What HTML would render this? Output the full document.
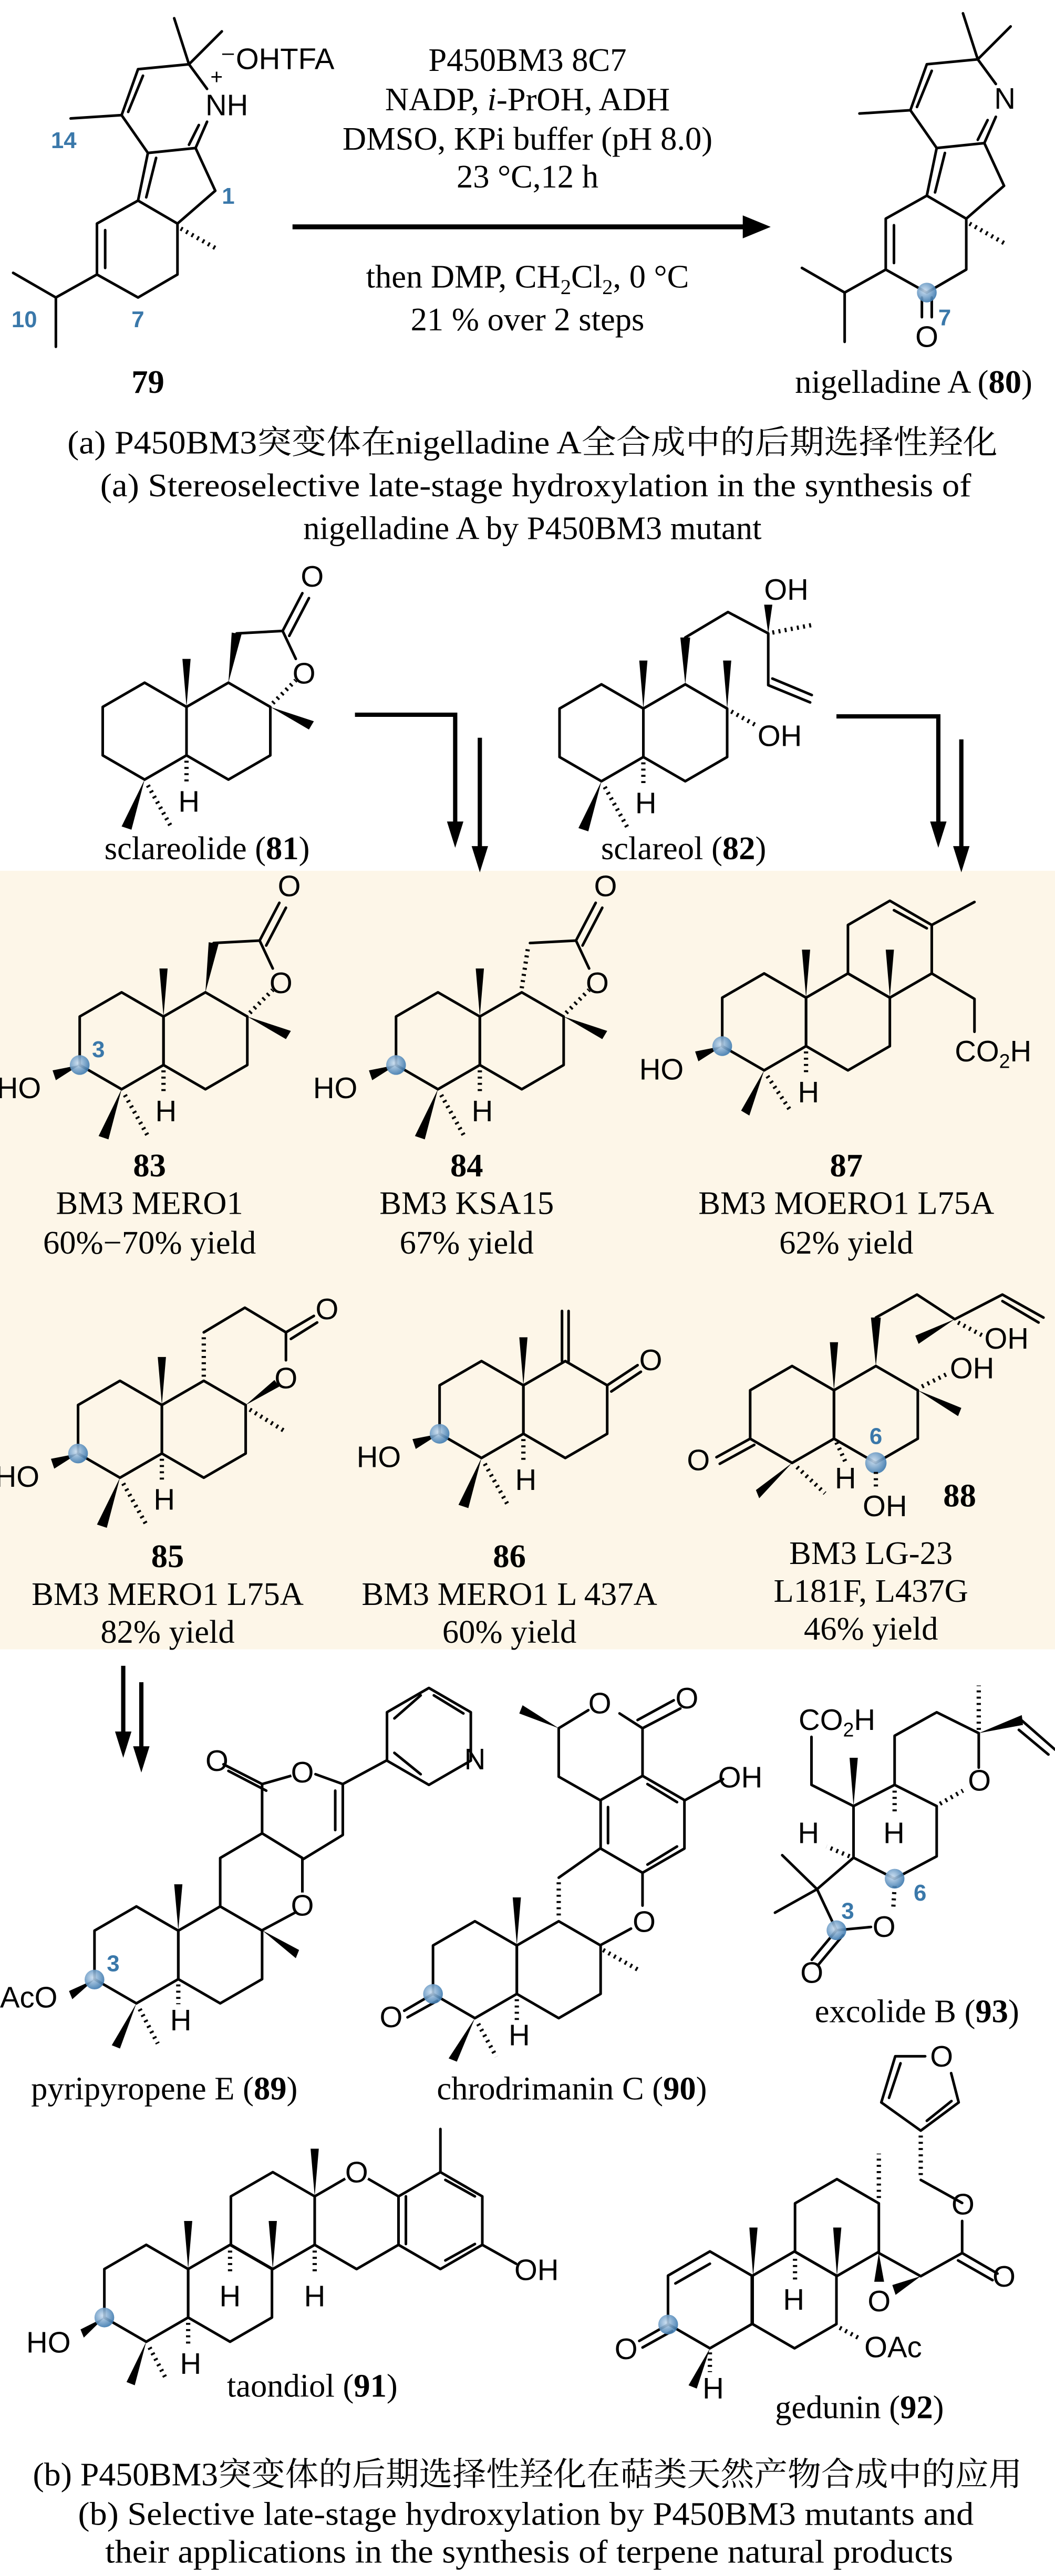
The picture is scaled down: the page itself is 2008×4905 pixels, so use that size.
<!DOCTYPE html>
<html><head><meta charset="utf-8"><style>
html,body{margin:0;padding:0;background:#fff}
svg{display:block}
.l{stroke:#000;stroke-width:1.6;fill:none;stroke-linejoin:round;stroke-linecap:round}
.ar{stroke:#000;stroke-width:2.6;fill:none}
.hs{stroke:#000;stroke-width:2.6;stroke-dasharray:1.2 2.6;fill:none}
.w{fill:#000;stroke:none}
.t{font-family:"Liberation Serif","Noto Serif CJK SC",serif;font-size:20px;fill:#000}
.a{font-family:"Liberation Sans",sans-serif;font-size:18px;fill:#000}
.bl{font-family:"Liberation Sans",sans-serif;font-size:14px;fill:#3a78aa;font-weight:bold}
.c{text-anchor:middle}
</style></head><body>
<svg width="2008" height="4905" viewBox="0 0 642 1568" xmlns="http://www.w3.org/2000/svg">
<defs>
<path id="h" class="l" d="M0,-29.5L25.5,-14.75L25.5,14.75L0,29.5L-25.5,14.75L-25.5,-14.75Z"/>
<radialGradient id="bg" cx="0.4" cy="0.4" r="0.6"><stop offset="0" stop-color="#c7dcf0"/><stop offset="1" stop-color="#3f7bb0"/></radialGradient>
</defs>
<rect x="0" y="0" width="642" height="1568" fill="#fff"/>
<rect x="0" y="530" width="642" height="474" fill="#fdf6e8"/>

<!-- ===== Scheme (a) ===== -->
<g id="m79">
<path class="l" d="M84,42L115,39M115,39L106,11M115,39L135,19M115,39L126,54M74,70L84,42M78,68L87,46M74,70L43,72M74,70L90,93L119,90M119,90L126,74M115,88L121,76M90,93L84,122M95,96L89,120M119,90L131,116L108,136L84,122M84,122L59,136L59,167L84,181L108,167L108,136M64,140L64,163M59,167L34,181L8,166M34,181L34,211"/>
<path class="hs" d="M110,139L133,152"/>
</g>
<text class="a" x="125" y="70">NH</text>
<text class="a" x="128" y="51" style="font-size:13px">+</text>
<text class="a" x="134" y="42">⁻OHTFA</text>
<text class="bl" x="31" y="90">14</text>
<text class="bl" x="135" y="124">1</text>
<text class="bl" x="7" y="199">10</text>
<text class="bl" x="80" y="199">7</text>
<text class="t c" x="90" y="239" font-weight="bold">79</text>

<text class="t c" x="321" y="43">P450BM3 8C7</text>
<text class="t c" x="321" y="67">NADP, <tspan font-style="italic">i</tspan>-PrOH, ADH</text>
<text class="t c" x="321" y="91">DMSO, KPi buffer (pH 8.0)</text>
<text class="t c" x="321" y="114">23 °C,12 h</text>
<line x1="178" y1="138" x2="455" y2="138" stroke="#000" stroke-width="3"/>
<polygon points="469,138 452,131 452,145" fill="#000"/>
<text class="t c" x="321" y="175">then DMP, CH<tspan font-size="13" dy="4">2</tspan><tspan dy="-4">Cl</tspan><tspan font-size="13" dy="4">2</tspan><tspan dy="-4">, 0 °C</tspan></text>
<text class="t c" x="321" y="201">21 % over 2 steps</text>

<g transform="translate(480,-3)">
<path class="l" d="M84,42L115,39M115,39L106,11M115,39L135,19M115,39L126,54M74,70L84,42M78,68L87,46M74,70L43,72M74,70L90,93L119,90M119,90L126,74M115,88L121,76M90,93L84,122M95,96L89,120M119,90L131,116L108,136L84,122M84,122L59,136L59,167L84,181L108,167L108,136M64,140L64,163M59,167L34,181L8,166M34,181L34,211M81,184L81,196M87,184L87,196"/>
<path class="hs" d="M110,139L133,152"/>
<circle cx="84" cy="181" r="6" fill="url(#bg)" opacity="0.9"/>
<text class="a" x="125" y="69">N</text>
<text class="a c" x="84" y="214">O</text>
<text class="bl" x="91" y="201">7</text>
</g>
<text class="t c" x="556" y="239">nigelladine A (<tspan font-weight="bold">80</tspan>)</text>

<text class="t c" x="324" y="276" textLength="566" lengthAdjust="spacingAndGlyphs">(a) P450BM3突变体在nigelladine A全合成中的后期选择性羟化</text>
<text class="t c" x="326" y="302" textLength="530" lengthAdjust="spacingAndGlyphs">(a) Stereoselective late-stage hydroxylation in the synthesis of</text>
<text class="t c" x="324" y="328">nigelladine A by P450BM3 mutant</text>

<!-- ===== 81 sclareolide ===== -->
<g transform="translate(88,445)">
<use href="#h"/><use href="#h" x="51"/>
<polygon class="w" points="25.5,-14.75 23,-44 28,-44"/>
<path class="hs" d="M25.5,18L25.5,32"/>
<text class="a c" x="27" y="49">H</text>
<polygon class="w" points="0,29.5 -14,58 -8,60"/>
<path class="hs" d="M2,33L16,58"/>
<polygon class="w" points="51,-29.5 53,-60 59,-59"/>
<path class="l" d="M56,-59.5L84,-61M84,-61L92,-44M84,-61L96,-84M88,-58L100,-81"/>
<path class="hs" d="M78,-17L92,-31"/>
<polygon class="w" points="76.5,-14.75 103,-6 100,-1"/>
<text class="a c" x="97" y="-29">O</text>
<text class="a c" x="102" y="-88">O</text>
</g>
<text class="t c" x="126" y="523">sclareolide (<tspan font-weight="bold">81</tspan>)</text>

<!-- ===== 82 sclareol ===== -->
<g transform="translate(366,446)">
<use href="#h"/><use href="#h" x="51"/>
<polygon class="w" points="25.5,-14.75 23,-44 28,-44"/>
<polygon class="w" points="76.5,-14.75 74,-44 79,-44"/>
<path class="hs" d="M25.5,18L25.5,32"/>
<text class="a c" x="27" y="49">H</text>
<polygon class="w" points="0,29.5 -14,58 -8,60"/>
<path class="hs" d="M2,33L16,58"/>
<polygon class="w" points="51,-29.5 48,-58 54,-58"/>
<path class="l" d="M51,-58L77,-73.5L101.5,-60.5L101.5,-29L127,-18.5M104,-33L128,-23"/>
<polygon class="w" points="101.5,-60.5 99,-78 104,-78"/>
<path class="hs" d="M104,-61L130,-66"/>
<path class="hs" d="M79,-13L95,-4"/>
<text class="a" x="99" y="-81">OH</text>
<text class="a" x="95" y="8">OH</text>
</g>
<text class="t c" x="416" y="523">sclareol (<tspan font-weight="bold">82</tspan>)</text>

<!-- arrows -->
<path class="ar" d="M216,435H277V505"/>
<polygon points="277,516 272,500 282,500" fill="#000"/>
<path class="ar" d="M292,449V520"/>
<polygon points="292,531 287,515 297,515" fill="#000"/>
<path class="ar" d="M509,436H571V505"/>
<polygon points="571,516 566,500 576,500" fill="#000"/>
<path class="ar" d="M585,450V520"/>
<polygon points="585,531 580,515 590,515" fill="#000"/>

<!-- ===== 83 ===== -->
<g transform="translate(74,633.5)">
<use href="#h"/><use href="#h" x="51"/>
<polygon class="w" points="25.5,-14.75 23,-44 28,-44"/>
<path class="hs" d="M25.5,18L25.5,32"/>
<text class="a c" x="27" y="49">H</text>
<polygon class="w" points="0,29.5 -14,58 -8,60"/>
<path class="hs" d="M2,33L16,58"/>
<polygon class="w" points="-25.5,14.75 -42,18 -40,24"/>
<circle cx="-25.5" cy="14.75" r="6" fill="url(#bg)" opacity="0.9"/>
<text class="bl" x="-18" y="10">3</text>
<text class="a" x="-76" y="35">HO</text>
<polygon class="w" points="51,-29.5 53,-60 59,-59"/>
<path class="l" d="M56,-59.5L84,-61M84,-61L92,-44M84,-61L96,-84M88,-58L100,-81"/>
<path class="hs" d="M78,-17L92,-31"/>
<polygon class="w" points="76.5,-14.75 103,-6 100,-1"/>
<text class="a c" x="97" y="-29">O</text>
<text class="a c" x="102" y="-88">O</text>
</g>
<text class="t c" x="91" y="716" font-weight="bold">83</text>
<text class="t c" x="91" y="739">BM3 MERO1</text>
<text class="t c" x="91" y="763">60%−70% yield</text>

<!-- ===== 84 ===== -->
<g transform="translate(266.5,633.5)">
<use href="#h"/><use href="#h" x="51"/>
<polygon class="w" points="25.5,-14.75 23,-44 28,-44"/>
<path class="hs" d="M25.5,18L25.5,32"/>
<text class="a c" x="27" y="49">H</text>
<polygon class="w" points="0,29.5 -14,58 -8,60"/>
<path class="hs" d="M2,33L16,58"/>
<polygon class="w" points="-25.5,14.75 -42,18 -40,24"/>
<circle cx="-25.5" cy="14.75" r="6" fill="url(#bg)" opacity="0.9"/>
<text class="a" x="-76" y="35">HO</text>
<path class="hs" d="M51,-32L55,-58"/>
<path class="l" d="M56,-59.5L84,-61M84,-61L92,-44M84,-61L96,-84M88,-58L100,-81"/>
<path class="hs" d="M78,-17L92,-31"/>
<polygon class="w" points="76.5,-14.75 103,-6 100,-1"/>
<text class="a c" x="97" y="-29">O</text>
<text class="a c" x="102" y="-88">O</text>
</g>
<text class="t c" x="284" y="716" font-weight="bold">84</text>
<text class="t c" x="284" y="739">BM3 KSA15</text>
<text class="t c" x="284" y="763">67% yield</text>

<!-- ===== 87 ===== -->
<g transform="translate(465,622)">
<use href="#h"/><use href="#h" x="51"/><use href="#h" x="76.5" y="-44.25"/>
<path class="l" d="M79,-68L99,-57M102,-59L128,-73M102,-29.5L128,-14L128,6"/>
<polygon class="w" points="25.5,-14.75 23,-44 28,-44"/>
<polygon class="w" points="76.5,-14.75 74,-44 79,-44"/>
<path class="hs" d="M25.5,18L25.5,32"/>
<text class="a c" x="27" y="49">H</text>
<polygon class="w" points="0,29.5 -14,54 -9,57"/>
<path class="hs" d="M2,33L16,54"/>
<polygon class="w" points="-25.5,14.75 -42,18 -40,24"/>
<circle cx="-25.5" cy="14.75" r="6" fill="url(#bg)" opacity="0.9"/>
<text class="a" x="-76" y="35">HO</text>
<text class="a" x="116" y="24">CO<tspan font-size="12" dy="4">2</tspan><tspan dy="-4">H</tspan></text>
</g>
<text class="t c" x="515" y="716" font-weight="bold">87</text>
<text class="t c" x="515" y="739">BM3 MOERO1 L75A</text>
<text class="t c" x="515" y="763">62% yield</text>

<!-- ===== 85 ===== -->
<g transform="translate(73,870)">
<use href="#h"/><use href="#h" x="51"/>
<polygon class="w" points="25.5,-14.75 23,-44 28,-44"/>
<path class="hs" d="M25.5,18L25.5,32"/>
<text class="a c" x="27" y="49">H</text>
<polygon class="w" points="0,29.5 -14,58 -8,60"/>
<path class="hs" d="M2,33L16,58"/>
<polygon class="w" points="-25.5,14.75 -42,18 -40,24"/>
<circle cx="-25.5" cy="14.75" r="6" fill="url(#bg)" opacity="0.9"/>
<text class="a" x="-76" y="35">HO</text>
<path class="hs" d="M51,-32L51,-58"/>
<path class="l" d="M51,-59L76,-74L101,-59L101,-42M101,-59L118,-69M104,-55L120,-65"/>
<polygon class="w" points="76.5,-14.75 94,-30 97,-26"/>
<path class="hs" d="M79,-12L100,1"/>
<text class="a c" x="101" y="-25">O</text>
<text class="a c" x="126" y="-67">O</text>
</g>
<text class="t c" x="102" y="954" font-weight="bold">85</text>
<text class="t c" x="102" y="977">BM3 MERO1 L75A</text>
<text class="t c" x="102" y="1000">82% yield</text>

<!-- ===== 86 ===== -->
<g transform="translate(293,858)">
<use href="#h"/><use href="#h" x="51"/>
<polygon class="w" points="25.5,-14.75 23,-44 28,-44"/>
<path class="hs" d="M25.5,18L25.5,32"/>
<text class="a c" x="27" y="49">H</text>
<polygon class="w" points="0,29.5 -14,58 -8,60"/>
<path class="hs" d="M2,33L16,58"/>
<polygon class="w" points="-25.5,14.75 -42,18 -40,24"/>
<circle cx="-25.5" cy="14.75" r="6" fill="url(#bg)" opacity="0.9"/>
<text class="a" x="-76" y="35">HO</text>
<path class="l" d="M49,-29.5L49,-60M53,-29.5L53,-60M76.5,-14.75L95,-27M79,-11L97,-23"/>
<text class="a" x="96" y="-24">O</text>
</g>
<text class="t c" x="310" y="954" font-weight="bold">86</text>
<text class="t c" x="310" y="977">BM3 MERO1 L 437A</text>
<text class="t c" x="310" y="1000">60% yield</text>

<!-- ===== 88 ===== -->
<g transform="translate(482,861)">
<use href="#h"/><use href="#h" x="51"/>
<polygon class="w" points="25.5,-14.75 23,-44 28,-44"/>
<path class="hs" d="M27,17L33,30"/>
<text class="a" x="26" y="45">H</text>
<path class="l" d="M-25.5,14.75L-46,26M-23,18.5L-44,30"/>
<text class="a" x="-64" y="34">O</text>
<polygon class="w" points="0,29.5 -22,46 -20,51"/>
<path class="hs" d="M3,32L20,48"/>
<circle cx="51" cy="29.5" r="6.5" fill="url(#bg)" opacity="0.9"/>
<text class="bl c" x="51" y="18">6</text>
<path class="hs" d="M51,35L51,44"/>
<text class="a" x="43" y="62">OH</text>
<polygon class="w" points="51,-29.5 48,-59 54,-59"/>
<path class="l" d="M51,-59L76,-73L99,-58L128,-73L153,-59M128,-69L150,-56"/>
<polygon class="w" points="99,-58 75,-48 77,-43"/>
<path class="hs" d="M101,-56L116,-48"/>
<text class="a" x="117" y="-40">OH</text>
<path class="hs" d="M79,-17L95,-25"/>
<text class="a" x="96" y="-22">OH</text>
<polygon class="w" points="76.5,-14.75 103,-4 101,1"/>
</g>
<text class="t c" x="584" y="917" font-weight="bold">88</text>
<text class="t c" x="530" y="952">BM3 LG-23</text>
<text class="t c" x="530" y="975">L181F, L437G</text>
<text class="t c" x="530" y="998">46% yield</text>

<!-- double arrow below box -->
<path class="ar" d="M75,1014V1059"/>
<polygon points="75,1070 70,1054 80,1054" fill="#000"/>
<path class="ar" d="M86,1024V1068"/>
<polygon points="86,1079 81,1063 91,1063" fill="#000"/>

<!-- ===== 89 pyripyropene E ===== -->
<g>
<use href="#h" x="83" y="1190"/><use href="#h" x="134" y="1190"/>
<path class="l" d="M134,1160.5L134,1131L159.5,1116L184,1131L184,1152M159.5,1175L180,1164"/>
<path class="l" d="M159.5,1116L159.5,1086L184,1079M159.5,1086L136,1074M162,1090L139,1078M184,1132L208.6,1117L208.6,1086L192,1080M204,1114L204,1090M208.6,1086L235.5,1071.5"/>
<use href="#h" x="261" y="1057"/>
<path class="l" d="M240,1046L256,1032M264,1032L282,1043M240,1067L256,1080"/>
<polygon class="w" points="108.5,1175 106,1147 111,1147"/>
<polygon class="w" points="159.5,1175 182,1187 180,1192"/>
<path class="hs" d="M108.5,1208L108.5,1220"/>
<text class="a c" x="110" y="1236">H</text>
<polygon class="w" points="83,1219.5 68,1245 73,1247"/>
<path class="hs" d="M85,1223L96,1244"/>
<polygon class="w" points="57.5,1205 42,1212 44,1217"/>
<circle cx="57.5" cy="1205" r="6" fill="url(#bg)" opacity="0.9"/>
<text class="bl" x="65" y="1200">3</text>
<text class="a" x="0" y="1222">AcO</text>
<circle cx="184" cy="1159" r="7" fill="#fff"/>
<text class="a c" x="184" y="1166">O</text>
<circle cx="184" cy="1079" r="7" fill="#fff"/>
<text class="a c" x="184" y="1085">O</text>
<text class="a c" x="132" y="1078">O</text>
<text class="a c" x="289" y="1077">N</text>
</g>
<text class="t c" x="100" y="1278">pyripyropene E (<tspan font-weight="bold">89</tspan>)</text>

<!-- ===== 90 chrodrimanin C ===== -->
<g>
<use href="#h" x="289" y="1199"/><use href="#h" x="340" y="1199"/>
<path class="l" d="M365.5,1184L384,1174M340,1143L365.5,1125M391,1140L391,1160"/>
<path class="hs" d="M340,1166L340,1144"/>
<use href="#h" x="391" y="1110.5"/>
<path class="l" d="M370,1100L370,1122M394,1086L412,1097M394,1135L412,1124"/>
<path class="l" d="M365.5,1096L340,1081.5L340,1052L358,1041M391,1081L391,1052L377,1043M391,1052L414,1040M388,1047L410,1035M416.5,1096L440,1083"/>
<polygon class="w" points="340,1052 318,1038 316,1043"/>
<polygon class="w" points="314.5,1184 312,1155 317,1155"/>
<path class="hs" d="M367,1187L390,1200"/>
<path class="hs" d="M314.5,1217L314.5,1230"/>
<text class="a c" x="316" y="1245">H</text>
<polygon class="w" points="289,1228.5 273,1253 278,1255"/>
<path class="hs" d="M291,1232L302,1252"/>
<path class="l" d="M263.5,1213.75L246,1224M266,1218L248,1228"/>
<circle cx="263.5" cy="1213.75" r="6" fill="url(#bg)" opacity="0.9"/>
<text class="a c" x="238" y="1234">O</text>
<text class="a c" x="392" y="1176">O</text>
<text class="a c" x="365" y="1043">O</text>
<text class="a c" x="418" y="1040">O</text>
<text class="a" x="437" y="1088">OH</text>
</g>
<text class="t c" x="348" y="1278">chrodrimanin C (<tspan font-weight="bold">90</tspan>)</text>

<!-- ===== 93 excolide B ===== -->
<g>
<path class="l" d="M519.4,1099.4L544.4,1086.5L570,1099.4L570,1130L544.4,1143.6L519.4,1130.8Z"/>
<path class="l" d="M544.4,1086.5L544.4,1056.6L570,1042.3L595.6,1055L595.6,1076"/>
<path class="hs" d="M572,1098L586,1090"/>
<polygon class="w" points="595.6,1055 621.8,1044 622.5,1050"/>
<path class="l" d="M621.8,1047.3L642,1065M620,1053L638,1068"/>
<path class="hs" d="M595.6,1053L595.6,1026"/>
<path class="l" d="M519.4,1099.4L493.8,1086.5L493.8,1057.3"/>
<polygon class="w" points="519.4,1099.4 517,1070 522,1070"/>
<path class="hs" d="M544.4,1090L544.4,1104"/>
<text class="a c" x="544" y="1122">H</text>
<path class="hs" d="M517,1130L503,1124"/>
<text class="a c" x="492" y="1122">H</text>
<path class="l" d="M519.4,1130.8L497.2,1150L476,1129.3M497.2,1150L471.6,1164.3M497.2,1150L509,1175L530,1173M509,1175L494,1193M513,1178L498,1196"/>
<path class="hs" d="M544.4,1148L543.5,1163"/>
<circle cx="544.4" cy="1143.6" r="6" fill="url(#bg)" opacity="0.9"/>
<circle cx="509" cy="1175" r="6" fill="url(#bg)" opacity="0.9"/>
<text class="bl" x="556" y="1157">6</text>
<text class="bl" x="512" y="1168">3</text>
<text class="a c" x="538" y="1179">O</text>
<text class="a c" x="494" y="1207">O</text>
<text class="a c" x="596" y="1090">O</text>
<text class="a" x="486" y="1053">CO<tspan font-size="12" dy="4">2</tspan><tspan dy="-4">H</tspan></text>
</g>
<text class="t c" x="558" y="1231">excolide B (<tspan font-weight="bold">93</tspan>)</text>

<!-- ===== 91 taondiol ===== -->
<g transform="translate(89,1396)">
<use href="#h"/><use href="#h" x="51"/><use href="#h" x="77" y="-44.25"/><use href="#h" x="128" y="-44.25"/><use href="#h" x="179" y="-44.25"/>
<path class="l" d="M158,-59L158,-30M182,-69L200,-59M182,-20L200,-30M179,-73.75L179,-100M204.5,-29.5L225,-18"/>
<polygon class="w" points="25.5,-14.75 23,-44 28,-44"/>
<polygon class="w" points="77,-14.75 74.5,-44 79.5,-44"/>
<polygon class="w" points="102.5,-59 100,-88 105,-88"/>
<path class="hs" d="M51,-26L51,-12"/>
<text class="a c" x="51" y="8">H</text>
<path class="hs" d="M102.5,-26L102.5,-12"/>
<text class="a c" x="102.5" y="8">H</text>
<path class="hs" d="M25.5,18L25.5,32"/>
<text class="a c" x="27" y="49">H</text>
<polygon class="w" points="0,29.5 -12,54 -7,56"/>
<path class="hs" d="M2,33L12,52"/>
<polygon class="w" points="-25.5,14.75 -40,22 -38,27"/>
<circle cx="-25.5" cy="14.75" r="6" fill="url(#bg)" opacity="0.9"/>
<text class="a" x="-73" y="36">HO</text>
<circle cx="128" cy="-73.75" r="8" fill="#fff"/>
<text class="a c" x="128" y="-67.5">O</text>
<text class="a" x="224" y="-8">OH</text>
</g>
<text class="t c" x="190" y="1459">taondiol (<tspan font-weight="bold">91</tspan>)</text>

<!-- ===== 92 gedunin ===== -->
<g>
<use href="#h" x="432" y="1400"/><use href="#h" x="483.5" y="1400"/><use href="#h" x="509.3" y="1356"/>
<path class="l" d="M411,1390L432,1378M560.3,1327L585.5,1341M585.5,1352L585.5,1371.5L560.3,1385.6L534.8,1371.5M585.5,1371.5L607,1384M583,1376L604,1388"/>
<polygon class="w" points="458.3,1385.6 456,1356 461,1356"/>
<polygon class="w" points="509.3,1385.6 507,1356 512,1356"/>
<polygon class="w" points="534.8,1371.5 532,1389 538,1389"/>
<polygon class="w" points="560.3,1385.6 543,1391 545,1397"/>
<path class="hs" d="M534.8,1338L534.8,1311"/>
<path class="hs" d="M560.3,1324L560.3,1300"/>
<path class="hs" d="M483.8,1375L483.8,1388"/>
<text class="a c" x="483" y="1406">H</text>
<path class="hs" d="M432,1432L432,1444"/>
<text class="a c" x="434" y="1460">H</text>
<polygon class="w" points="432,1429.6 419,1452 424,1454"/>
<path class="hs" d="M511,1417L524,1424"/>
<text class="a" x="526" y="1435">OAc</text>
<path class="l" d="M406.6,1415L389,1425M409,1419L391,1429"/>
<circle cx="406.6" cy="1415" r="6" fill="url(#bg)" opacity="0.9"/>
<text class="a c" x="381" y="1436">O</text>
<text class="a c" x="535" y="1407">O</text>
<text class="a c" x="586" y="1348">O</text>
<text class="a c" x="611" y="1392">O</text>
<path class="l" d="M560.3,1297L536.3,1279.8L544.8,1251.7L563,1251.7M541,1277L548,1256M578.8,1262L583.4,1279.8L560.3,1297M564,1291L579,1279"/>
<text class="a c" x="573" y="1258">O</text>
</g>
<text class="t c" x="523" y="1472">gedunin (<tspan font-weight="bold">92</tspan>)</text>

<!-- caption b -->
<text class="t c" x="321" y="1513" textLength="602" lengthAdjust="spacingAndGlyphs">(b) P450BM3突变体的后期选择性羟化在萜类天然产物合成中的应用</text>
<text class="t c" x="320" y="1537" textLength="545" lengthAdjust="spacingAndGlyphs">(b) Selective late-stage hydroxylation by P450BM3 mutants and</text>
<text class="t c" x="322" y="1560" textLength="516" lengthAdjust="spacingAndGlyphs">their applications in the synthesis of terpene natural products</text>
</svg>
</body></html>
